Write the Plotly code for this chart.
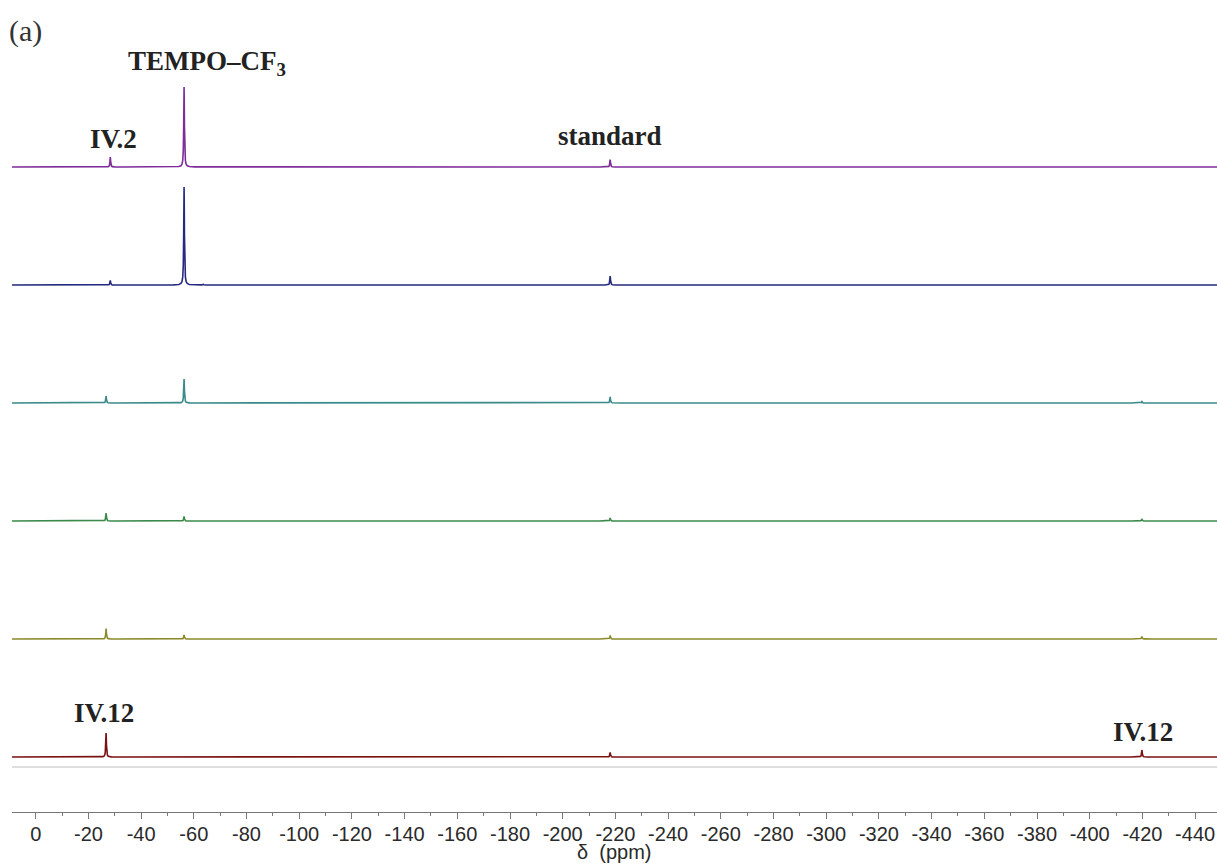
import numpy as np
import plotly.graph_objects as go

# ---------------- data ----------------
tick_values = list(range(0, -441, -20))
tick_labels = [str(v) for v in tick_values]          # hyphen-minus labels as in the original
minor_tick_values = list(range(0, -450, -10))

# chemical shifts (ppm) of the peaks seen in the spectra
peak_names = ["IV.2", "IV.12", "TEMPO-CF3", "minor", "standard", "IV.12 (b)"]
peak_shifts = [-28.3, -26.7, -56.3, -63.5, -218.0, -419.8]

# peak intensities for each spectrum (top to bottom)
intensity_purple = [10.0, 0.0, 80.0, 0.0, 7.5, 0.0]
intensity_navy = [4.5, 0.0, 98.0, 1.0, 9.0, 0.0]
intensity_teal = [0.0, 7.0, 24.0, 0.0, 6.0, 1.5]
intensity_green = [0.0, 8.0, 4.5, 0.0, 3.0, 2.0]
intensity_olive = [0.0, 10.5, 4.0, 0.0, 3.5, 2.5]
intensity_red = [0.0, 24.0, 0.0, 0.0, 4.5, 7.0]

spectra = [intensity_purple, intensity_navy, intensity_teal,
           intensity_green, intensity_olive, intensity_red]
colors = ["#7d2c99", "#262a7e", "#3a8a8a", "#3b8a4b", "#8a8a2c", "#7a1212"]

# ---------------- layout geometry ----------------
W, H = 1217, 864
axis_page_y = 812             # x axis line position on the page
plot_h = axis_page_y
x_left_ppm, x_right_ppm = 9.0, -448.3
spacing = 118.0
bottom_offset = 55.0
gamma = 0.15                  # line width of a peak (ppm)


def ypx(pix):
    """convert a page-pixel y into y-axis units."""
    return axis_page_y - pix


def lorentz_trace(intens):
    local = np.array([-4, -2, -1.2, -0.8, -0.5, -0.3, -0.15, -0.06, 0,
                      0.06, 0.15, 0.3, 0.5, 0.8, 1.2, 2, 4])
    xs = [x_left_ppm, x_right_ppm]
    for p, h in zip(peak_shifts, intens):
        if h > 0:
            xs.extend((p + local).tolist())
    xs = np.array(sorted(set(xs), reverse=True))
    ys = np.zeros_like(xs)
    for p, h in zip(peak_shifts, intens):
        ys += h * gamma ** 2 / ((xs - p) ** 2 + gamma ** 2)
    return xs, ys


fig = go.Figure()
n = len(spectra)
for i, (intens, col) in enumerate(zip(spectra, colors)):
    offset = bottom_offset + (n - 1 - i) * spacing
    xs, ys = lorentz_trace(intens)
    fig.add_trace(go.Scatter(x=xs, y=ys + offset, mode="lines",
                             line=dict(color=col, width=1.6),
                             hoverinfo="skip", showlegend=False))

label_font = dict(family="Liberation Serif, Times New Roman, serif", size=27, color="#222222")
axis_font = dict(family="Liberation Sans, Arial, sans-serif", size=20, color="#2a2a2a")

annotations = [
    dict(x=3.9, y=ypx(31), text="(a)", font=dict(family="Liberation Serif, serif", size=30, color="#333333")),
    dict(x=-65.0, y=ypx(63), text="<b>TEMPO–CF<sub>3</sub></b>", font=label_font),
    dict(x=-29.5, y=ypx(139), text="<b>IV.2</b>", font=label_font),
    dict(x=-218.0, y=ypx(136), text="<b>standard</b>", font=label_font),
    dict(x=-26.1, y=ypx(713), text="<b>IV.12</b>", font=label_font),
    dict(x=-420.2, y=ypx(732), text="<b>IV.12</b>", font=label_font),
]
for a in annotations:
    a.update(xref="x", yref="y", showarrow=False, xanchor="center", yanchor="middle")

# axis title (below the plot area, so in paper coordinates)
annotations.append(dict(xref="paper", yref="paper", x=0.4995, y=-(852 - axis_page_y) / plot_h,
                        text="δ  (ppm)", showarrow=False, xanchor="center", yanchor="middle",
                        font=axis_font))

fig.update_layout(
    width=W, height=H,
    margin=dict(l=12, r=0, t=0, b=H - plot_h, autoexpand=False),
    paper_bgcolor="white", plot_bgcolor="white",
    annotations=annotations,
    shapes=[dict(type="line", xref="paper", yref="y", x0=0, x1=1,
                 y0=ypx(767), y1=ypx(767), line=dict(color="#bdbdbd", width=1))],
    xaxis=dict(range=[x_left_ppm, x_right_ppm], showgrid=False, zeroline=False,
               showline=True, linecolor="#777777", linewidth=1,
               tickmode="array", tickvals=tick_values, ticktext=tick_labels,
               ticks="outside", ticklen=6, tickcolor="#777777", tickwidth=1,
               tickfont=axis_font, ticklabelstandoff=-2,
               minor=dict(tickmode="array", tickvals=minor_tick_values,
                          ticks="outside", ticklen=3, tickcolor="#777777", tickwidth=1),
               automargin=False, fixedrange=True),
    yaxis=dict(range=[0, plot_h], visible=False, fixedrange=True),
)

fig.write_html("out.html", config={"displayModeBar": False},
               post_script="document.body.style.margin='0';document.body.style.overflow='hidden';")
